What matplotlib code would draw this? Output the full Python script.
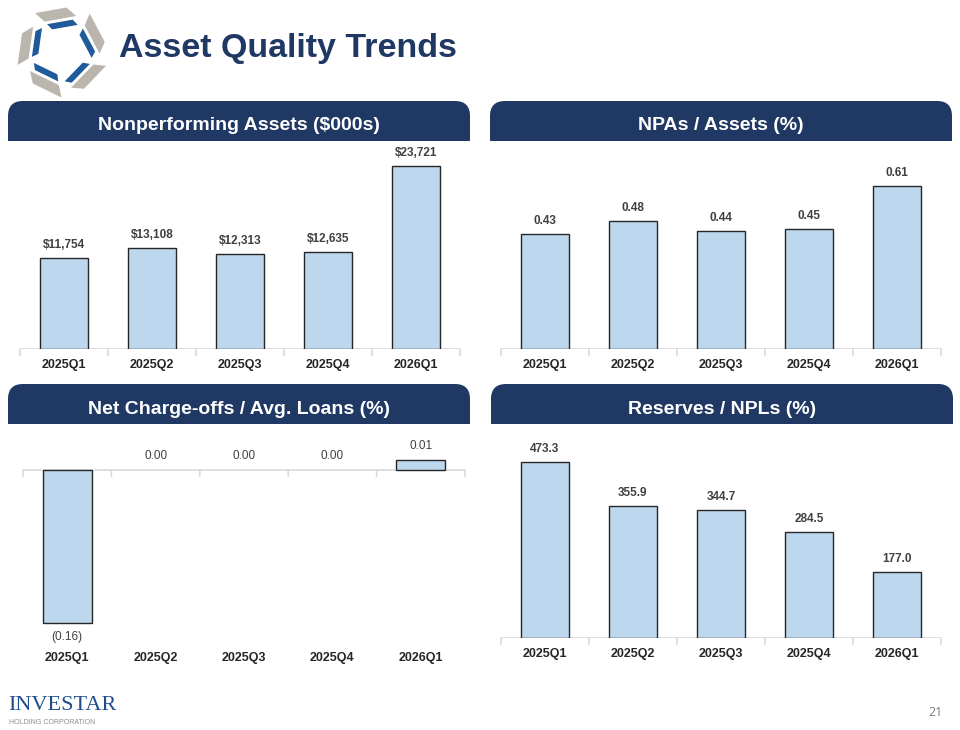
import numpy as np
import matplotlib
matplotlib.use('Agg')
import matplotlib.pyplot as plt
from matplotlib.patches import FancyBboxPatch, Rectangle, Polygon

plt.rcParams['font.family'] = ['Liberation Sans', 'DejaVu Sans']

# data
quarters = ['2025Q1', '2025Q2', '2025Q3', '2025Q4', '2026Q1']
npa = [11754, 13108, 12313, 12635, 23721]
npa_assets = [0.43, 0.48, 0.44, 0.45, 0.61]
nco_loans = [-0.16, 0.00, 0.00, 0.00, 0.01]
reserves_npl = [473.3, 355.9, 344.7, 284.5, 177.0]

NAVY = '#1f3864'
BAR = '#bdd7ee'
GRID = '#d9d9d9'
TXT = '#404040'

W, H = 960, 730
fig = plt.figure(figsize=(W / 100, H / 100), dpi=100)

# background axes in pixel coordinates for banners, title, logos
bg = fig.add_axes([0, 0, 1, 1], zorder=0)
bg.set_xlim(0, W)
bg.set_ylim(H, 0)
bg.axis('off')


def banner(x0, y0, x1, y1, text):
    r = 15
    bg.add_patch(FancyBboxPatch((x0 + r, y0 + r), (x1 - x0) - 2 * r, (y1 - y0) - 2 * r,
                                boxstyle='round,pad=%d' % r, fc=NAVY, ec='none'))
    bg.add_patch(Rectangle((x0, y0 + r), x1 - x0, (y1 - y0) - r, fc=NAVY, ec='none'))
    bg.text((x0 + x1) / 2, (y0 + y1) / 2 + 5, text, color='white', fontsize=14,
            fontweight='bold', ha='center', va='center')


banner(8, 101, 470, 141, 'Nonperforming Assets ($000s)')
banner(490, 101, 952, 141, 'NPAs / Assets (%)')
banner(8, 384, 470, 424, 'Net Charge-offs / Avg. Loans (%)')
banner(491, 384, 953, 424, 'Reserves / NPLs (%)')

bg.text(119, 48, 'Asset Quality Trends', color=NAVY, fontsize=24.5, fontweight='bold',
        ha='left', va='center')

# pinwheel logo
cx, cy, R = 62, 51, 31
c = np.array([cx, cy])
for k in range(5):
    phi = np.deg2rad(100 + 72 * k)
    rad = np.array([np.cos(phi), -np.sin(phi)])
    tan = np.array([np.sin(phi), np.cos(phi)])
    gray = [c + (R + 11) * rad - 20 * tan, c + (R + 11) * rad + 12 * tan,
            c + (R + 1) * rad + 20 * tan, c + (R + 1) * rad - 12 * tan]
    blue = [c + (R - 2) * rad - 10 * tan, c + (R - 2) * rad + 16 * tan,
            c + (R - 8) * rad + 20 * tan, c + (R - 8) * rad - 6 * tan]
    bg.add_patch(Polygon(gray, closed=True, fc='#bab6ad', ec='none'))
    bg.add_patch(Polygon(blue, closed=True, fc='#1f5a9a', ec='none'))

# footer
bg.text(8, 705, 'INVESTAR', family=['Liberation Serif', 'DejaVu Serif'], fontsize=16,
        color='#1f4e8c', ha='left', va='center')
bg.text(9, 722, 'HOLDING CORPORATION', fontsize=5, color='#8c8c8c', ha='left', va='center')
bg.text(936, 712, '21', fontsize=9, color='#7f7f7f', ha='center', va='center',
        family=['Open Sans', 'DejaVu Sans'])


def panel(box, values, ylim, fmt, pad, weight='bold', lab_pad=5):
    l, t, r, b = box
    ax = fig.add_axes([l / W, 1 - b / H, (r - l) / W, (b - t) / H], zorder=1)
    ax.patch.set_alpha(0)
    x = np.arange(len(values))
    lw = [0 if v == 0 else 1.0 for v in values]
    bars = ax.bar(x, values, width=0.55, color=BAR, edgecolor='#262626', linewidth=lw, zorder=3)
    ax.bar_label(bars, labels=[fmt(v) for v in values], padding=lab_pad, fontsize=8.5,
                 fontweight=weight, color=TXT)
    ax.set_xlim(-0.5, len(values) - 0.5)
    ax.set_ylim(*ylim)
    for s in ax.spines.values():
        s.set_visible(False)
    ax.axhline(0, color=GRID, lw=1.2, zorder=2)
    for bnd in np.arange(-0.5, len(values), 1.0):
        ax.annotate('', xy=(bnd, 0), xytext=(0, -4.5), textcoords='offset points',
                    arrowprops=dict(arrowstyle='-', color=GRID, lw=1.2, shrinkA=0, shrinkB=0))
    ax.set_yticks([])
    ax.set_xticks(x)
    ax.set_xticklabels(quarters, fontsize=9, fontweight='bold', color='#262626')
    ax.tick_params(axis='x', length=0, pad=pad)
    return ax


panel((20, 145, 460, 349), npa, (0, 26443), lambda v: f'${v:,.0f}', 7)
panel((501, 145, 941, 349), npa_assets, (0, 0.763), lambda v: f'{v:.2f}', 7)
panel((23, 430, 465, 640), nco_loans, (-0.1778, 0.0418),
      lambda v: f'({abs(v):.2f})' if v < 0 else f'{v:.2f}', 9, weight='normal', lab_pad=6)
panel((501, 440, 941, 638), reserves_npl, (0, 532.4), lambda v: f'{v:.1f}', 7.5)

fig.savefig('out.png', dpi=100)
